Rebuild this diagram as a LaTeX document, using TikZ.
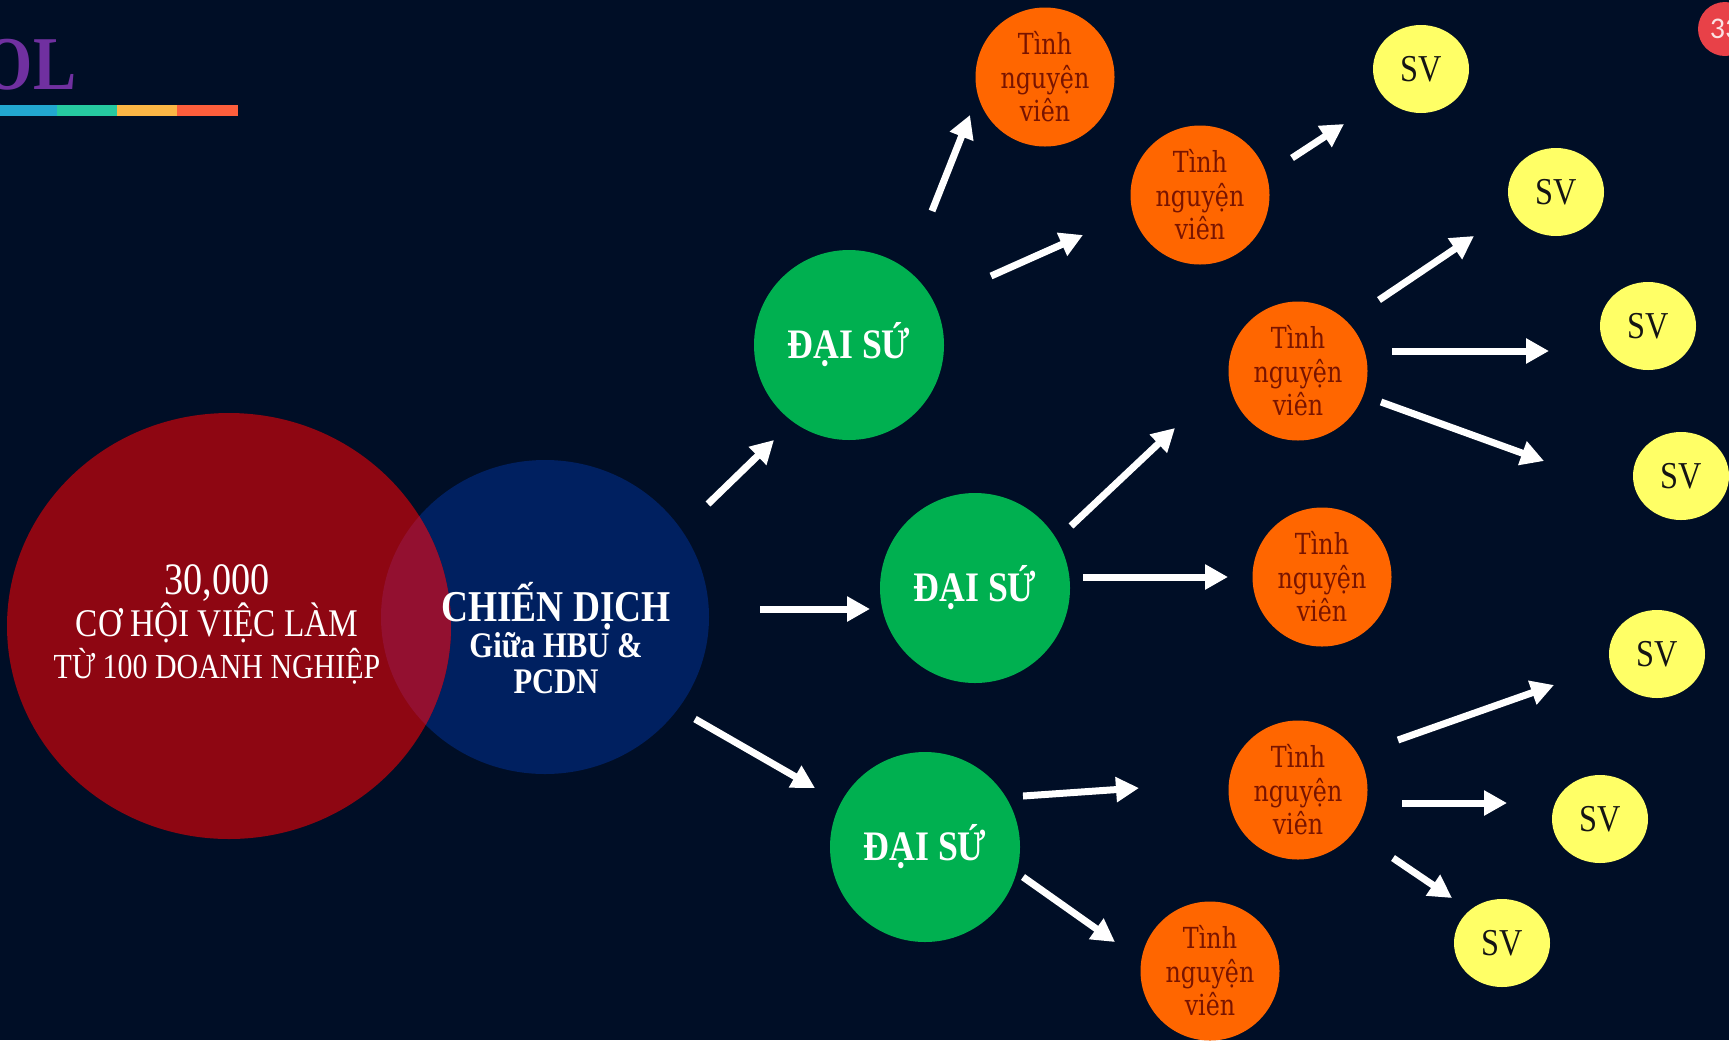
\documentclass[tikz,border=0pt]{standalone}
\usepackage{fontspec}
\setmainfont{Liberation Serif}[FakeStretch=0.85]
\newfontfamily\tnvfont{DejaVu Serif}[FakeStretch=0.82]
\newfontfamily\pagefont{Carlito}
\usetikzlibrary{arrows.meta,shapes.geometric}

\definecolor{bgnavy}{RGB}{0,14,38}
\definecolor{jobred}{RGB}{142,6,18}
\definecolor{campblue}{RGB}{0,32,96}
\definecolor{overlapred}{RGB}{147,16,48}
\definecolor{dsgreen}{RGB}{0,176,80}
\definecolor{tnvorange}{RGB}{255,102,0}
\definecolor{tnvtext}{RGB}{120,20,0}
\definecolor{svyellow}{RGB}{255,255,102}
\definecolor{svtext}{RGB}{20,20,20}
\definecolor{titlepurple}{RGB}{112,48,160}
\definecolor{pagered}{RGB}{232,65,72}
\definecolor{barblue}{RGB}{34,167,208}
\definecolor{barteal}{RGB}{38,201,160}
\definecolor{baryellow}{RGB}{251,182,69}
\definecolor{barorange}{RGB}{253,94,60}

\tikzset{every picture/.style={line width=0.75pt},
  bubble/.style={circle,inner sep=0pt,align=center},
  ambassador/.style={bubble,fill=dsgreen,minimum size=95pt,text=white,font=\bfseries\fontsize{21}{24}\selectfont},
  volunteer/.style={bubble,fill=tnvorange,minimum size=69.5pt,text=tnvtext,font=\tnvfont\fontsize{14.5}{16.8}\selectfont},
  student/.style={ellipse,inner sep=0pt,fill=svyellow,minimum width=48pt,minimum height=44pt,text=svtext,font=\fontsize{19}{22}\selectfont},
  whitearrow/.style={draw=white,line width=3.5pt,-{Triangle[length=11.5pt,width=12pt]}}
}

\begin{document}
\begin{tikzpicture}[x=0.5pt,y=-0.5pt]
        \useasboundingbox (0,0) rectangle (1729,1040);
        \fill[bgnavy] (0,0) rectangle (1729,1040);
        \clip (0,0) rectangle (1729,1040);

        %Title and colour bar
        \node[anchor=base east,inner sep=0pt,text=titlepurple,font=\bfseries\fontsize{38}{38}\selectfont] (title) at (77,89) {OL};
        \fill[barblue] (-20,105) rectangle (57,116);
        \fill[barteal] (57,105) rectangle (117,116);
        \fill[baryellow] (117,105) rectangle (177,116);
        \fill[barorange] (177,105) rectangle (238,116);

        %Page number
        \node[circle,fill=pagered,minimum size=27pt,inner sep=0pt,text=white!85!pagered,font=\pagefont\fontsize{15}{15}\selectfont] (page) at (1725,29) {33};

        %Shape: Ellipses
        \node[ellipse,fill=campblue,minimum width=164pt,minimum height=157pt] (campaign) at (545,617) {};
        \node[ellipse,fill=jobred,minimum width=222pt,minimum height=213pt] (jobs) at (229,626) {};
        \begin{scope}
          \clip (jobs.center) ellipse [x radius=222, y radius=213];
          \fill[overlapred] (campaign.center) ellipse [x radius=164, y radius=157];
        \end{scope}

        % Text Node
        \node[align=center,text=white,inner sep=0pt,font=\fontsize{17.6}{21}\selectfont] (jobs-text) at (217,624)
          {{\fontsize{22.5}{22}\selectfont 30,000}\\{\fontsize{19.6}{21}\selectfont CƠ HỘI VIỆC LÀM}\\TỪ 100 DOANH NGHIỆP};
        % Text Node
        \node[align=center,text=white,inner sep=0pt,font=\bfseries\fontsize{18}{18}\selectfont] (campaign-text) at (556,638)
          {{\fontsize{22}{22}\selectfont CHIẾN DỊCH}\\Giữa HBU \&\\PCDN};

        %Shape: Circles
        \node[ambassador] (ds1) at (849,345) {ĐẠI SỨ};
        \node[ambassador] (ds2) at (975,588) {ĐẠI SỨ};
        \node[ambassador] (ds3) at (925,847) {ĐẠI SỨ};

        \node[volunteer] (tnv1) at (1045,77) {Tình\\nguyện\\viên};
        \node[volunteer] (tnv2) at (1200,195) {Tình\\nguyện\\viên};
        \node[volunteer] (tnv3) at (1298,371) {Tình\\nguyện\\viên};
        \node[volunteer] (tnv4) at (1322,577) {Tình\\nguyện\\viên};
        \node[volunteer] (tnv5) at (1298,790) {Tình\\nguyện\\viên};
        \node[volunteer] (tnv6) at (1210,971) {Tình\\nguyện\\viên};

        \node[student] (sv1) at (1421,69) {SV};
        \node[student] (sv2) at (1556,192) {SV};
        \node[student] (sv3) at (1648,326) {SV};
        \node[student] (sv4) at (1681,476) {SV};
        \node[student] (sv5) at (1657,654) {SV};
        \node[student] (sv6) at (1600,819) {SV};
        \node[student] (sv7) at (1502,943) {SV};

        %Straight Lines
        \draw[whitearrow] (campaign.center) ++(163,-113) -- ++(66,-64);
        \draw[whitearrow] (campaign.center) ++(215,-8) -- ++(110,0);
        \draw[whitearrow] (campaign.center) ++(150,102) -- ++(120,69);

        \draw[whitearrow] (ds1.center) ++(83,-134) -- ++(38,-96);
        \draw[whitearrow] (ds1.center) ++(142,-69) -- ++(92,-41);
        \draw[whitearrow] (tnv2.center) ++(92,-37) -- ++(52,-34);

        \draw[whitearrow] (ds2.center) ++(96,-62) -- ++(104,-98);
        \draw[whitearrow] (ds2.center) ++(108,-11) -- ++(145,0);
        \draw[whitearrow] (tnv3.center) ++(81,-71) -- ++(95,-64);
        \draw[whitearrow] (tnv3.center) ++(94,-20) -- ++(157,0);
        \draw[whitearrow] (tnv3.center) ++(83,31) -- ++(163,59);

        \draw[whitearrow] (ds3.center) ++(98,-51) -- ++(116,-8);
        \draw[whitearrow] (ds3.center) ++(98,30) -- ++(92,65);
        \draw[whitearrow] (tnv5.center) ++(100,-50) -- ++(156,-55);
        \draw[whitearrow] (tnv5.center) ++(104,13) -- ++(105,0);
        \draw[whitearrow] (tnv5.center) ++(95,68) -- ++(59,40);
\end{tikzpicture}
\end{document}
